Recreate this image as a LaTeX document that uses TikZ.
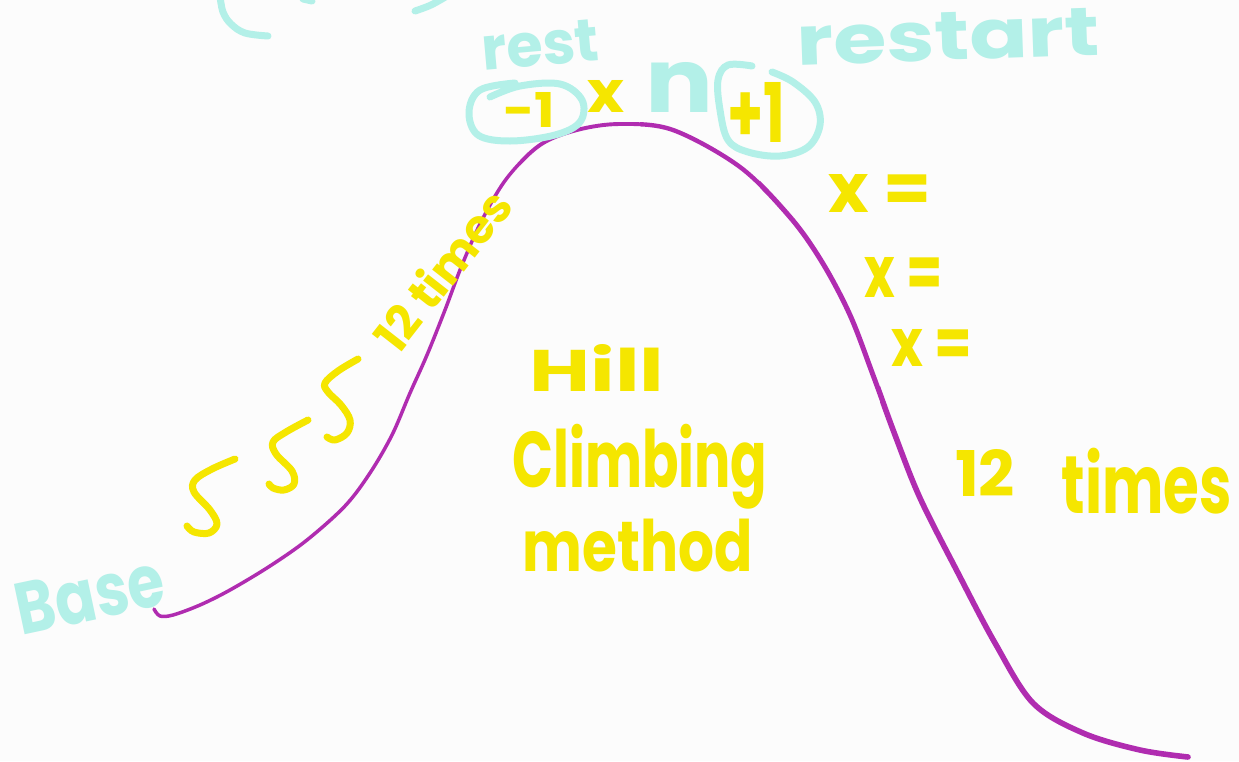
\documentclass[tikz,border=0pt]{standalone}
\usepackage{fontspec}
\setmainfont{Poppins}
\usepackage{graphicx}
\definecolor{inkyellow}{HTML}{F5E600}
\definecolor{inkcyan}{HTML}{B3F0E8}
\definecolor{inkpurple}{HTML}{B02CB0}
\definecolor{paper}{HTML}{FCFCFC}
\newcommand{\fitto}[3]{\resizebox*{#1pt}{#2pt}{\bfseries #3}}
\begin{document}
\begin{tikzpicture}[x=1pt,y=-1pt,
  yel/.style={text=inkyellow, inner sep=0pt},
  cya/.style={text=inkcyan, inner sep=0pt},
  cyanstroke/.style={draw=inkcyan, line width=7pt, line cap=round, line join=round},
  yelstroke/.style={draw=inkyellow, line width=7pt, line cap=round, line join=round},
  hill/.style={draw=inkpurple, line cap=round, line join=round}]
\fill[paper] (0,0) rectangle (1239,761);
\useasboundingbox (0,0) rectangle (1239,761);
\clip (0,0) rectangle (1239,761);

% partial marks at top left
\draw[cyanstroke] plot[smooth, tension=0.6] coordinates {(220,-4) (223,12) (231,24) (245,33) (268,36)};
\draw[cyanstroke] (303,-1) -- (312,1);
\draw[cyanstroke] plot[smooth, tension=0.6] coordinates {(447,-4) (431,5) (415,11)};

% hill curve, widening from left to right
\def\hillpath{plot[smooth, tension=0.55] coordinates {(154,609) (160,616) (173,615) (200,605) (230,590) (270,566) (307,540) (345,506) (370,473) (392,435) (410,393) (427,355) (445,310) (462,265) (482,220) (507,178) (540,145) (577,130) (620,124) (673,130) (740,167) (790,217) (822,262) (850,315) (873,375) (895,435) (920,498) (958,573) (995,643) (1033,703) (1083,733) (1140,750) (1188,757)}}
\begin{scope}
  \clip (0,0) rectangle (520,761);
  \draw[hill, line width=3.5pt] \hillpath;
\end{scope}
\begin{scope}
  \clip (520,0) rectangle (640,761);
  \draw[hill, line width=3.9pt] \hillpath;
\end{scope}
\begin{scope}
  \clip (640,0) rectangle (760,761);
  \draw[hill, line width=4.4pt] \hillpath;
\end{scope}
\begin{scope}
  \clip (760,0) rectangle (880,761);
  \draw[hill, line width=5pt] \hillpath;
\end{scope}
\begin{scope}
  \clip (880,0) rectangle (1239,761);
  \draw[hill, line width=5.6pt] \hillpath;
\end{scope}

% squiggles
\draw[yelstroke] plot[smooth, tension=0.6] coordinates {(235,459) (212,469) (195,480) (194,492) (210,510) (217,524) (209,533) (194,532) (187,526)};
\draw[yelstroke] plot[smooth, tension=0.6] coordinates {(308,420) (286,432) (273,442) (276,454) (292,471) (294,484) (284,490) (273,488) (269,484)};
\draw[yelstroke] plot[smooth, tension=0.6] coordinates {(358,359) (338,371) (325,383) (328,392) (341,405) (350,420) (347,433) (335,440) (327,437)};

% loops round -1 and +1
\draw[cyanstroke] plot[smooth, tension=0.6] coordinates {(490,97) (520,86) (560,84) (582,100) (580,122) (555,135) (510,141) (478,135) (469,112) (480,90) (515,83)};
\draw[cyanstroke] plot[smooth, tension=0.6] coordinates {(772,72) (793,82) (815,102) (820,125) (808,147) (780,156) (748,152) (728,140) (720,110) (718,80) (728,65) (752,66)};

% labels
\node[cya, rotate=5] (rest) at (540,45) {\fitto{118}{42}{rest}};
\node[cya, rotate=2] (restart) at (948,37) {\fitto{303}{48}{restart}};
\node[yel] (minusone) at (529,110) {\fitto{52}{35}{-1}};
\node[yel] (times) at (606,96) {\fitto{37}{32}{x}};
\node[cya] (n) at (680,87) {\fitto{68}{50}{n}};
\node[yel] (plusone) at (756,112) {\fitto{58}{60}{+1}};

\node[yel] (xeq1) at (880,193) {\fitto{103}{38}{x =}};
\node[yel] (xeq2) at (904,277) {\fitto{78}{40}{x =}};
\node[yel] (xeq3) at (932,348) {\fitto{81}{37}{x =}};

\node[yel, rotate=52] (twelveleft) at (442,270) {\fitto{190}{38}{12 times}};

\node[yel] (hill) at (597,368) {\fitto{135}{47}{Hill}};
\node[yel] (climbing) at (640,467) {\fitto{255}{85}{Climbing}};
\node[yel] (method) at (638,546) {\fitto{230}{53}{method}};

\node[yel] (twelve) at (985,473) {\fitto{60}{47}{12}};
\node[yel] (timesright) at (1147,481) {\fitto{170}{66}{times}};

\node[cya, rotate=12] (base) at (90,595) {\fitto{150}{52}{Base}};
\end{tikzpicture}
\end{document}
